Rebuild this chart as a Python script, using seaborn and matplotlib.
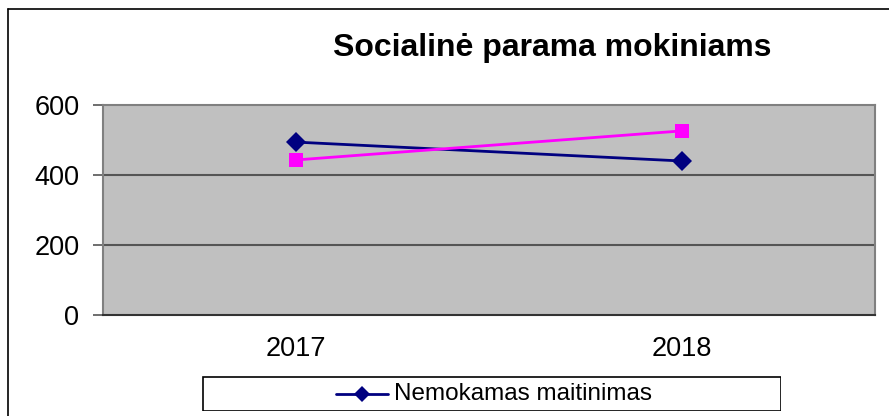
import matplotlib
matplotlib.use("Agg")
import matplotlib.pyplot as plt
import seaborn as sns
import pandas as pd
from matplotlib.patches import Rectangle

years = ["2017", "2018"]
nemokamas = [494, 440]
kita = [443, 526]
yticks = [0, 200, 400, 600]
title = "Socialinė parama mokiniams"
legend_label = "Nemokamas maitinimas"

sns.set_theme(style="white")
plt.rcParams['font.family'] = ['Liberation Sans', 'DejaVu Sans']
plt.rcParams['text.color'] = 'black'
plt.rcParams['xtick.color'] = 'black'
plt.rcParams['ytick.color'] = 'black'

df = pd.DataFrame({"year": years * 2,
                   "value": nemokamas + kita,
                   "series": [legend_label] * 2 + ["Kita parama"] * 2})

fig = plt.figure(figsize=(8.89, 4.16), dpi=100)
ax = fig.add_axes([103 / 889, 1 - 315 / 416, 772 / 889, 210 / 416])
ax.set_facecolor("#C0C0C0")

sns.lineplot(data=df, x="year", y="value", hue="series", style="series",
             markers={legend_label: "D", "Kita parama": "s"}, dashes=False,
             palette={legend_label: "#000080", "Kita parama": "#FF00FF"},
             markersize=10, linewidth=2, markeredgewidth=0, ax=ax, legend=False)

ax.set_xlim(-0.5, 1.5)
ax.set_ylim(0, 600)
ax.set_yticks(yticks)
ax.set_yticklabels([str(t) for t in yticks], fontsize=19.5, color="black")
ax.set_xticks([0, 1])
ax.set_xticklabels(years, fontsize=19.5, color="black")
ax.set_xticks([-0.5, 0.5, 1.5], minor=True)
ax.tick_params(axis="x", which="major", length=0, pad=15)
ax.tick_params(axis="x", which="minor", length=7, width=1.2, color="#333333", direction="out")
ax.tick_params(axis="y", length=7, width=1.2, color="#555555", direction="out", pad=10, left=True)
ax.set_xlabel("")
ax.set_ylabel("")
for y in [200, 400]:
    ax.axhline(y, color="#555555", linewidth=1.5, zorder=1)
for s in ["top", "right", "left"]:
    ax.spines[s].set_color("#808080")
    ax.spines[s].set_linewidth(1.5)
ax.spines["bottom"].set_color("#333333")
ax.spines["bottom"].set_linewidth(1.5)

fig.text(552 / 889, 1 - 48 / 416, title, ha="center", va="center",
         fontsize=23, fontweight="bold", color="black")

# Legend box
leg_ax = fig.add_axes([202 / 889, 1 - 411 / 416, 579 / 889, 35 / 416])
leg_ax.set_xlim(0, 579)
leg_ax.set_ylim(0, 35)
leg_ax.axis("off")
leg_ax.add_patch(Rectangle((0.5, 0.5), 578, 34, fill=False, edgecolor="#000000", linewidth=1.2))
leg_ax.plot([134, 186], [17.5, 17.5], color="#000080", linewidth=2)
leg_ax.plot([160], [17.5], marker="D", color="#000080", markersize=8, markeredgewidth=0)
leg_ax.text(192, 17.5, legend_label, va="center", ha="left", fontsize=17.5, color="black")

# Figure border (left and top)
fig.add_artist(plt.Line2D([8 / 889, 8 / 889], [0, 1 - 9 / 416], color="black", linewidth=1.2))
fig.add_artist(plt.Line2D([8 / 889, 1], [1 - 9 / 416, 1 - 9 / 416], color="black", linewidth=1.2))

fig.savefig("out.png", dpi=100)
